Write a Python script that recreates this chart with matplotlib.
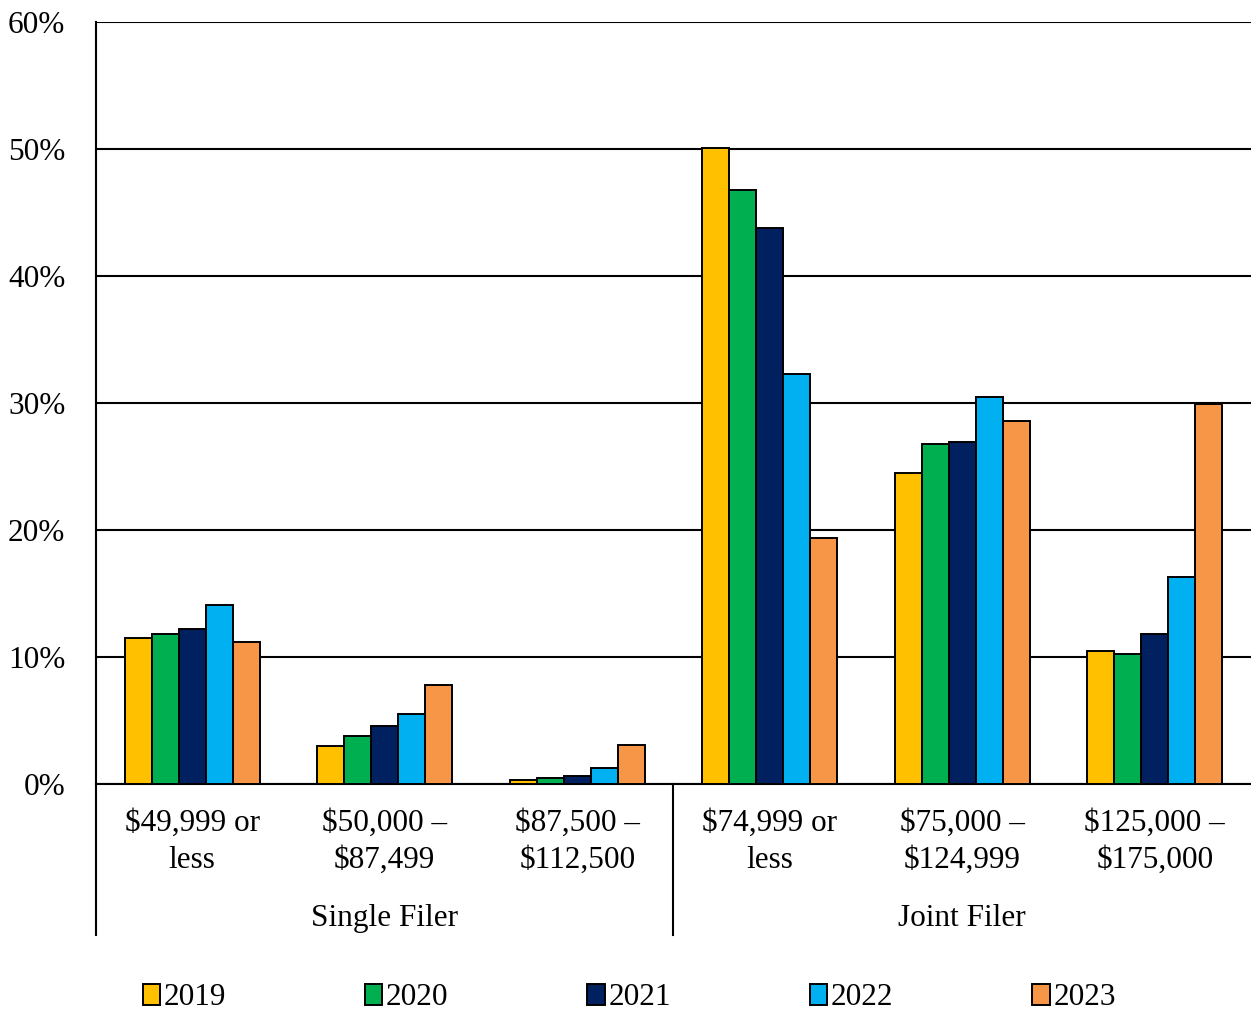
import matplotlib
matplotlib.use("Agg")
import matplotlib.pyplot as plt
import matplotlib.transforms as mtransforms
import numpy as np

plt.rcParams['font.family'] = ['Liberation Serif', 'DejaVu Serif']

# income brackets (share of filers, %)
categories = ["$49,999 or\nless", "$50,000 \u2013\n$87,499", "$87,500 \u2013\n$112,500",
              "$74,999 or\nless", "$75,000 \u2013\n$124,999", "$125,000 \u2013\n$175,000"]
groups = ["Single Filer", "Joint Filer"]
years = ["2019", "2020", "2021", "2022", "2023"]

v2019 = [11.5, 3.0, 0.3, 50.1, 24.5, 10.5]
v2020 = [11.8, 3.8, 0.5, 46.8, 26.8, 10.2]
v2021 = [12.2, 4.6, 0.65, 43.8, 26.9, 11.8]
v2022 = [14.1, 5.5, 1.25, 32.3, 30.5, 16.3]
v2023 = [11.2, 7.8, 3.1, 19.4, 28.6, 29.9]
series = [v2019, v2020, v2021, v2022, v2023]

colors = ["#FFC000", "#00B050", "#002060", "#00B0F0", "#F79646"]

fig = plt.figure(figsize=(12.51, 10.10), dpi=100)
ax = fig.add_axes([0.0767, 0.2238, 0.9233, 0.7545])

x = np.arange(len(categories))
w = 0.14
for i, (vals, c, yr) in enumerate(zip(series, colors, years)):
    ax.bar(x + (i - 2) * w, vals, width=w, color=c, edgecolor="black",
           linewidth=1.4, label=yr, zorder=3)

ax.set_xlim(-0.5, 5.5)
ax.set_ylim(0, 60)
ax.set_yticks(range(0, 61, 10))
ax.set_yticklabels([f"{t}%" for t in range(0, 61, 10)], fontsize=22.5)
ax.grid(axis="y", color="black", linewidth=1.5, zorder=0)
ax.set_axisbelow(True)

ax.set_xticks(x)
ax.set_xticklabels(categories, fontsize=22.5, linespacing=1.36)
ax.tick_params(axis="both", length=0)
ax.tick_params(axis="y", pad=22)
ax.tick_params(axis="x", pad=18)

for s in ["top", "right"]:
    ax.spines[s].set_visible(False)
ax.spines["left"].set_linewidth(1.5)
ax.spines["bottom"].set_linewidth(1.5)

# group separators and group names below the axis
trans = mtransforms.blended_transform_factory(ax.transData, ax.transAxes)
for xs in [-0.5, 2.5]:
    ax.plot([xs, xs], [0, -0.198], transform=trans, color="black",
            linewidth=1.5, clip_on=False)
ax.text(1, -0.177, groups[0], transform=trans, ha="center", va="center", fontsize=22.5)
ax.text(4, -0.177, groups[1], transform=trans, ha="center", va="center", fontsize=22.5)

fig.legend(loc="center", bbox_to_anchor=(0.503, 0.012), ncol=5, fontsize=22.5,
           frameon=False, handlelength=0.55, handleheight=0.7, handletextpad=0.12,
           columnspacing=4.45, borderpad=0.1)

fig.savefig("out.png", dpi=100)
